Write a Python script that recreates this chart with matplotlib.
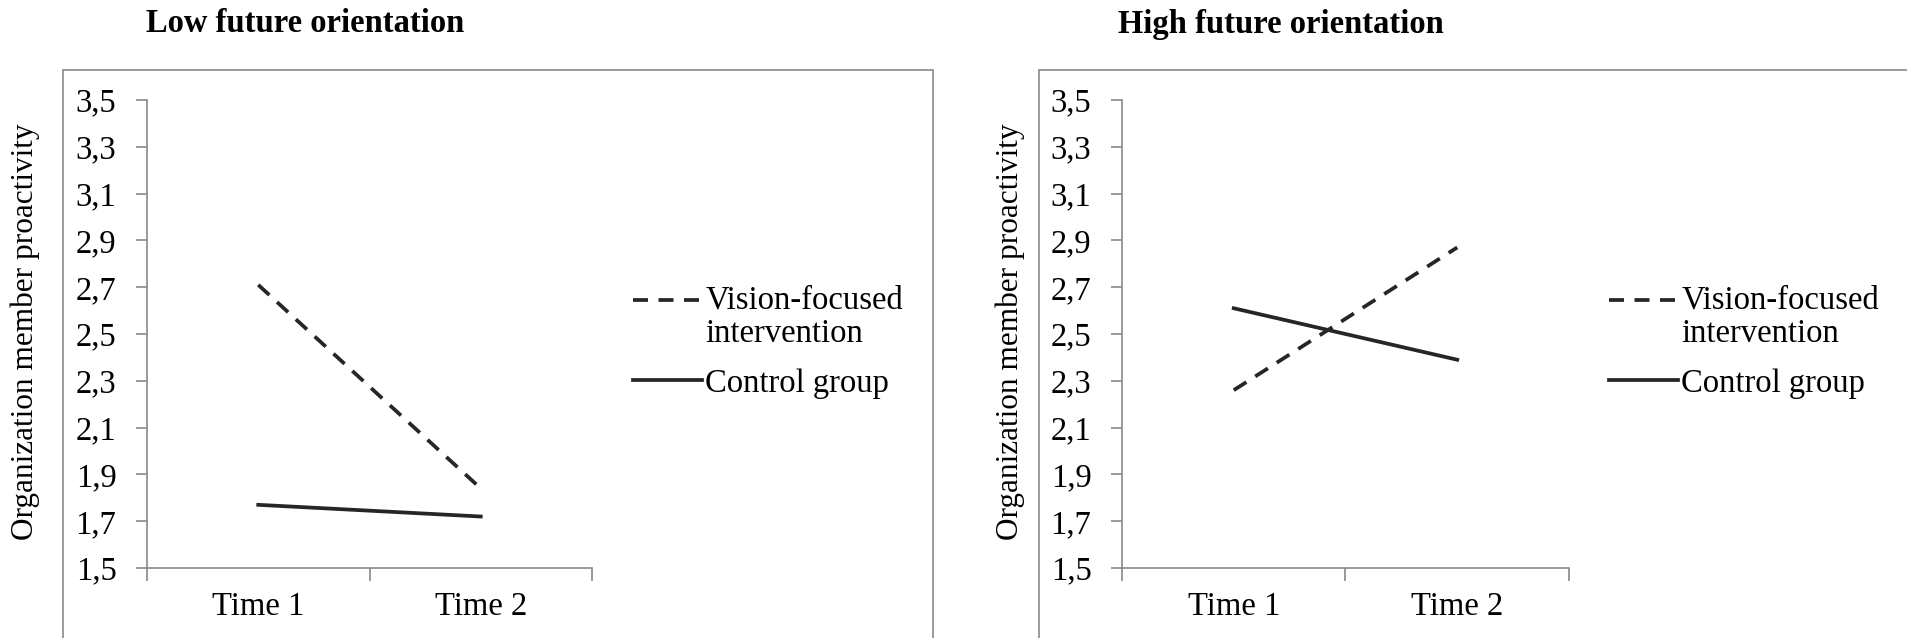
import numpy as np
import matplotlib
matplotlib.use("Agg")
import matplotlib.pyplot as plt
from matplotlib.patches import Rectangle
from matplotlib.legend_handler import HandlerLine2D

plt.rcParams['font.family'] = ['Liberation Serif', 'DejaVu Serif']

# data
times = ['Time 1', 'Time 2']
series_names = ['Vision-focused\nintervention', 'Control group']
low_vision = [2.71, 1.84]
low_control = [1.77, 1.72]
high_vision = [2.26, 2.87]
high_control = [2.61, 2.39]
panel_titles = ['Low future orientation', 'High future orientation']
yticks = [1.5, 1.7, 1.9, 2.1, 2.3, 2.5, 2.7, 2.9, 3.1, 3.3, 3.5]
ylabel = 'Organization member proactivity'

W, H = 1908, 638
FS = 23.5
axis_grey = '#898989'
line_col = '#262626'

fig = plt.figure(figsize=(W / 100, H / 100), dpi=100)


class FirstLineHandler(HandlerLine2D):
    # Excel puts the key next to the first line of a wrapped label
    def __init__(self, dy, **kw):
        super().__init__(**kw)
        self.dy = dy

    def create_artists(self, legend, orig_handle, xdescent, ydescent, width,
                       height, fontsize, trans):
        arts = super().create_artists(legend, orig_handle, xdescent, ydescent,
                                      width, height, fontsize, trans)
        for a in arts:
            a.set_ydata(np.asarray(a.get_ydata()) + self.dy)
        return arts


def px_axes(x0, y0, x1, y1):
    # pixel box (top-left origin) -> figure fraction axes
    return fig.add_axes([x0 / W, 1 - y1 / H, (x1 - x0) / W, (y1 - y0) / H])


panels = [
    dict(ax=(147, 100, 592, 568), box=(63, 70, 933, 700), title_x=305,
         ylab_x=25, leg=(633, 342), vision=low_vision, control=low_control),
    dict(ax=(1122, 100, 1569, 568), box=(1039, 70, 1960, 700), title_x=1281,
         ylab_x=1010, leg=(1609, 342), vision=high_vision, control=high_control),
]

xpos = np.arange(len(times)) + 0.5

for p, title in zip(panels, panel_titles):
    # outer chart border like the Excel chart area
    bx0, by0, bx1, by1 = p['box']
    fig.add_artist(Rectangle((bx0 / W, 1 - by1 / H), (bx1 - bx0) / W, (by1 - by0) / H,
                             transform=fig.transFigure, fill=False,
                             edgecolor=axis_grey, linewidth=1.2))
    fig.text(p['title_x'] / W, 1 - 24 / H, title, ha='center', va='center',
             fontsize=FS, fontweight='bold')

    ax = px_axes(*p['ax'])
    vline, = ax.plot(xpos, p['vision'], color=line_col, lw=2.7, ls=(0, (4.0, 2.8)),
                     label=series_names[0])
    ax.plot(xpos, p['control'], color=line_col, lw=2.7, label=series_names[1])

    ax.set_xlim(0, len(times))
    ax.set_ylim(1.5, 3.5)
    ax.set_yticks(yticks)
    ax.set_yticklabels([f'{v:.1f}'.replace('.', ',') for v in yticks])
    ax.set_xticks(np.arange(len(times) + 1))
    ax.set_xticklabels([])
    ax.set_xticks(xpos, minor=True)
    ax.set_xticklabels(times, minor=True)
    ax.tick_params(axis='x', which='minor', length=0, pad=17, labelsize=FS)
    ax.tick_params(axis='x', which='major', length=9, direction='out',
                   color=axis_grey, width=1.2)
    ax.tick_params(axis='y', length=8, direction='out', color=axis_grey,
                   width=1.2, labelsize=FS, pad=14)

    for s in ['top', 'right']:
        ax.spines[s].set_visible(False)
    for s in ['left', 'bottom']:
        ax.spines[s].set_color(axis_grey)
        ax.spines[s].set_linewidth(1.2)

    # y label sits outside the chart border, as in the reference
    fig.text(p['ylab_x'] / W, 1 - 332 / H, ylabel, rotation=90, ha='center',
             va='center', fontsize=FS - 1)

    lx, ly = p['leg']
    leg = ax.legend(loc='center left', bbox_to_anchor=(lx / W, 1 - ly / H),
                    bbox_transform=fig.transFigure, frameon=False, fontsize=FS,
                    handlelength=2.1, handletextpad=0.12, borderpad=0,
                    borderaxespad=0, labelspacing=0.6,
                    handler_map={vline: FirstLineHandler(12.5)})
    for t in leg.get_texts():
        t.set_linespacing(1.1)

fig.savefig('out.png', dpi=100)
